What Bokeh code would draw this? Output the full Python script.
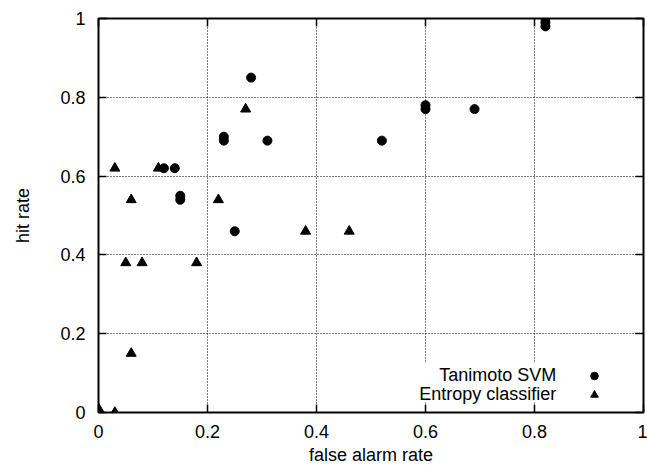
from bokeh.plotting import figure
from bokeh.models import (Range1d, FixedTicker, LinearAxis, CustomJSTickFormatter,
                          Legend, LegendItem, Label, BoxAnnotation)
from bokeh.embed import file_html
from bokeh.resources import INLINE

# ---- data ----
svm_x = [0.82, 0.82, 0.82, 0.60, 0.60, 0.69, 0.52, 0.28, 0.23, 0.23, 0.31, 0.12, 0.14, 0.15, 0.15, 0.25]
svm_y = [1.00, 0.99, 0.98, 0.78, 0.77, 0.77, 0.69, 0.85, 0.70, 0.69, 0.69, 0.62, 0.62, 0.55, 0.54, 0.46]

ent_x = [0.03, 0.11, 0.06, 0.22, 0.27, 0.05, 0.08, 0.18, 0.38, 0.46, 0.06, 0.00, 0.00, 0.03]
ent_y = [0.62, 0.62, 0.54, 0.54, 0.77, 0.38, 0.38, 0.38, 0.46, 0.46, 0.15, 0.00, 0.01, 0.00]

tick_values = [0, 0.2, 0.4, 0.6, 0.8, 1]
series_names = ["Tanimoto SVM", "Entropy classifier"]
x_title = "false alarm rate"
y_title = "hit rate"

FONT = "Liberation Sans"
FS = "18px"

p = figure(width=647, height=467, x_range=Range1d(0, 1), y_range=Range1d(0, 1),
           output_backend="svg", toolbar_location=None,
           min_border_left=98, min_border_right=4, min_border_top=18, min_border_bottom=0)
p.background_fill_color = "white"
p.border_fill_color = "white"
p.outline_line_color = "black"
p.outline_line_width = 2

ticker = FixedTicker(ticks=tick_values)
fmt = CustomJSTickFormatter(code="return String(Number(tick.toFixed(2)));")
blank = CustomJSTickFormatter(code="return '';")

def style_axis(ax, labels=True):
    ax.ticker = ticker
    ax.axis_line_color = None
    ax.major_tick_in = 8
    ax.major_tick_out = 0
    ax.major_tick_line_color = "black"
    ax.major_tick_line_width = 1.5
    ax.minor_tick_line_color = None
    ax.major_label_text_font = FONT
    ax.major_label_text_font_size = FS
    ax.major_label_text_color = "black"
    ax.axis_label_text_font = FONT
    ax.axis_label_text_font_size = FS
    ax.axis_label_text_font_style = "normal"
    ax.axis_label_text_color = "black"
    if labels:
        ax.formatter = fmt
    else:
        ax.formatter = blank
        ax.major_label_standoff = 0

xa = p.xaxis[0]
ya = p.yaxis[0]
style_axis(xa)
style_axis(ya)
xa.axis_label = x_title
ya.axis_label = y_title
xa.major_label_standoff = 12
xa.axis_label_standoff = 4
ya.major_label_standoff = 13
ya.axis_label_standoff = 24

top_ax = LinearAxis()
right_ax = LinearAxis()
style_axis(top_ax, labels=False)
style_axis(right_ax, labels=False)
p.add_layout(top_ax, "above")
p.add_layout(right_ax, "right")

for g in (p.xgrid[0], p.ygrid[0]):
    g.ticker = ticker
    g.grid_line_color = "black"
    g.grid_line_width = 1
    g.grid_line_dash = "1 2"
    g.grid_line_alpha = 1.0

r_svm = p.scatter(svm_x, svm_y, marker="circle", size=9, fill_color="black", line_color="black")
r_ent = p.scatter(ent_x, ent_y, marker="triangle", size=10, fill_color="black", line_color="black")

# white area behind the key
mask = BoxAnnotation(left=0.578, right=0.95, top=0.125, bottom=0.026,
                     fill_color="white", fill_alpha=1.0, line_color=None)
p.add_layout(mask)

for name, yy in zip(series_names, [0.094, 0.046]):
    p.add_layout(Label(x=0.84, y=yy, text=name, text_align="right", text_baseline="middle",
                       text_font=FONT, text_font_size=FS, text_color="black"))

legend = Legend(items=[LegendItem(label=" ", renderers=[r_svm]),
                       LegendItem(label=" ", renderers=[r_ent])],
                location=(485, 8), padding=0, margin=0, spacing=0,
                glyph_width=22, glyph_height=19, label_height=19, label_standoff=0,
                label_text_font_size="1px", background_fill_alpha=0,
                border_line_color=None)
p.add_layout(legend)

open("out.html", "w").write(file_html(p, INLINE))
